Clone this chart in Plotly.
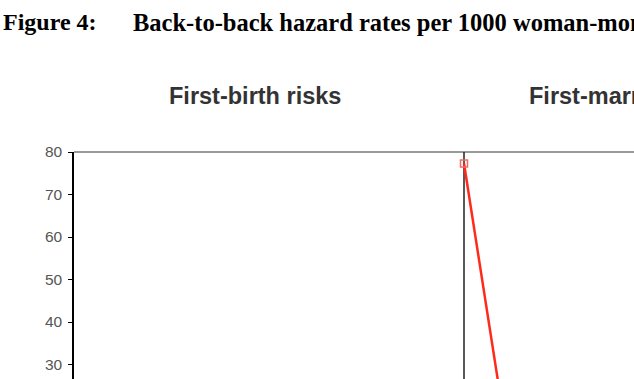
import plotly.graph_objects as go

# Data (months relative to the event; hazard per 1000 woman-months)
marriage_months = [0, 4]
marriage_rates = [77.3, 12.0]

y_ticks = [30, 40, 50, 60, 70, 80]
title_prefix = "Figure 4:"
title_text = "Back-to-back hazard rates per 1000 woman-months"
panel_titles = ["First-birth risks", "First-marriage risks"]

W, H = 634, 379
L, T = 74, 152
PW, PH = W - L, H - T

def px_x(p):
    return (p - L) / PW

def px_y(p):
    return (H - p) / PH

fig = go.Figure()
fig.add_trace(go.Scatter(
    x=marriage_months, y=marriage_rates, mode="lines+markers",
    line=dict(color="#ff2a1a", width=2.5),
    marker=dict(symbol="square-open", size=7, color="#f26b63", line=dict(width=1.5)),
    showlegend=False, cliponaxis=True,
))

y_top = 80
y_bottom = y_top - PH / 4.25

fig.update_layout(
    width=W, height=H,
    margin=dict(l=L, r=0, t=T, b=0),
    paper_bgcolor="white", plot_bgcolor="white",
    xaxis=dict(range=[-36, -36 + 72 * PW / 780], visible=False, showgrid=False, zeroline=False),
    yaxis=dict(range=[y_bottom, y_top], tickvals=y_ticks, showgrid=False, zeroline=False,
               showline=True, linecolor="black", linewidth=1.5,
               ticks="outside", ticklen=4, tickcolor="black", tickwidth=1,
               ticklabelstandoff=3,
               tickfont=dict(family="Liberation Sans, Arial", size=15.5, color="#555555")),
    shapes=[
        dict(type="line", xref="paper", yref="paper", x0=0, x1=1, y0=1, y1=1,
             line=dict(color="#9a9a9a", width=2), layer="below"),
        dict(type="line", xref="x", yref="paper", x0=0, x1=0, y0=0, y1=1,
             line=dict(color="#222222", width=1.5), layer="below"),
    ],
    annotations=[
        dict(text="<b>" + title_prefix + "</b>", xref="paper", yref="paper",
             x=px_x(1), y=px_y(22), xanchor="left", yanchor="middle", showarrow=False,
             font=dict(family="Liberation Serif, Times New Roman", size=24, color="black")),
        dict(text="<b>" + title_text + "</b>", xref="paper", yref="paper",
             x=px_x(131), y=px_y(22), xanchor="left", yanchor="middle", showarrow=False,
             font=dict(family="Liberation Serif, Times New Roman", size=24.5, color="black")),
        dict(text="<b>" + panel_titles[0] + "</b>", xref="paper", yref="paper",
             x=px_x(254.5), y=px_y(96), xanchor="center", yanchor="middle", showarrow=False,
             font=dict(family="Liberation Sans, Arial", size=23.5, color="#333333")),
        dict(text="<b>" + panel_titles[1] + "</b>", xref="paper", yref="paper",
             x=px_x(527), y=px_y(96), xanchor="left", yanchor="middle", showarrow=False,
             font=dict(family="Liberation Sans, Arial", size=23.5, color="#333333")),
    ],
)

fig.write_html("out.html")
